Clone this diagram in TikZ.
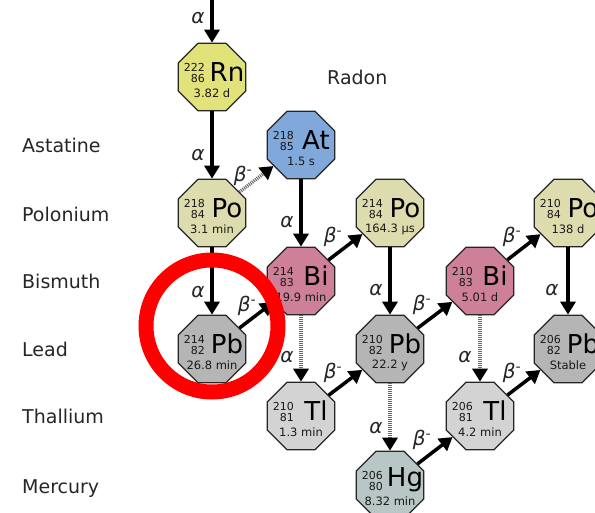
\documentclass[tikz,border=0pt]{standalone}
\usepackage{fontspec}
\setmainfont{DejaVu Sans}
\usetikzlibrary{shapes.geometric,arrows.meta,calc}
\definecolor{cRn}{HTML}{E2E27A}
\definecolor{cAt}{HTML}{80A8DA}
\definecolor{cPo}{HTML}{DCDCAE}
\definecolor{cBi}{HTML}{CF8099}
\definecolor{cPb}{HTML}{B5B5B5}
\definecolor{cTl}{HTML}{D3D3D3}
\definecolor{cHg}{HTML}{B8C6C6}
\tikzset{
  iso/.style={regular polygon, regular polygon sides=8, minimum size=73pt, inner sep=0pt, draw=black!85, line width=1.2pt},
  num/.style={inner sep=0pt, font=\fontsize{11}{11}\selectfont, text=black!90},
  hl/.style={inner sep=0pt, font=\fontsize{11.5}{11.5}\selectfont, text=black!90},
  sym/.style={inner sep=0pt, font=\fontsize{26}{26}\selectfont, text=black},
  row/.style={inner sep=0pt, anchor=base west, font=\fontsize{19}{19}\selectfont, text=black!85},
  dk/.style={line width=3.5pt, -{Triangle[length=13pt,width=15pt]}},
  mn/.style={line width=3.5pt, black!60, dash pattern=on 1pt off 1pt, arrows={-{Triangle[length=13pt,width=15pt,color=black]}}},
  lab/.style={inner sep=0pt, font=\fontsize{20}{20}\selectfont\itshape, text=black!85},
}
\newcommand\isotope[8]{%
  \node[iso, fill=#4] (#1) at (#2,#3) {};
  \node[num, anchor=east] at ($(#1)+(-7,-10)$) {#5};
  \node[num, anchor=east] at ($(#1)+(-7,1)$) {#6};
  \node[sym] at ($(#1)+(15,-5)$) {#7};
  \node[hl] at ($(#1)+(0,16)$) {#8};
}
\begin{document}
\begin{tikzpicture}[x=1pt,y=-1pt]
\useasboundingbox (0,0) rectangle (595,513);
% row labels
\node[row] (lRn) at (327,85) {Radon};
\node[row] (lAt) at (22,153) {Astatine};
\node[row] (lPo) at (22,222) {Polonium};
\node[row] (lBi) at (22,289) {Bismuth};
\node[row] (lPb) at (22,357) {Lead};
\node[row] (lTl) at (22,424) {Thallium};
\node[row] (lHg) at (22,493) {Mercury};
% isotopes
\isotope{rn}{212}{77}{cRn}{222}{86}{Rn}{3.82 d}
\isotope{at}{301}{145}{cAt}{218}{85}{At}{1.5 s}
\isotope{poa}{212}{213}{cPo}{218}{84}{Po}{3.1 min}
\isotope{bia}{301}{281}{cBi}{214}{83}{Bi}{19.9 min}
\isotope{pba}{212}{349}{cPb}{214}{82}{Pb}{26.8 min}
\isotope{pob}{390}{213}{cPo}{214}{84}{Po}{164.3 µs}
\isotope{pbb}{390}{349}{cPb}{210}{82}{Pb}{22.2 y}
\isotope{tla}{301}{416}{cTl}{210}{81}{Tl}{1.3 min}
\isotope{hg}{390}{485}{cHg}{206}{80}{Hg}{8.32 min}
\isotope{bib}{480}{281}{cBi}{210}{83}{Bi}{5.01 d}
\isotope{tlb}{480}{416}{cTl}{206}{81}{Tl}{4.2 min}
\isotope{poc}{568}{213}{cPo}{210}{84}{Po}{138 d}
\isotope{pbc}{568}{349}{cPb}{206}{82}{Pb}{Stable}
% arrows
\coordinate (top) at (212,0);
\draw[dk] (top) -- (rn);
\draw[dk] (rn) -- (poa);
\draw[dk] (poa) -- (pba);
\draw[mn] (poa) -- (at);
\draw[dk] (at) -- (bia);
\draw[dk] (pba) -- (bia);
\draw[dk] (bia) -- (pob);
\draw[mn] (bia) -- (tla);
\draw[dk] (pob) -- (pbb);
\draw[dk] (tla) -- (pbb);
\draw[dk] (pbb) -- (bib);
\draw[mn] (pbb) -- (hg);
\draw[dk] (hg) -- (tlb);
\draw[dk] (bib) -- (poc);
\draw[mn] (bib) -- (tlb);
\draw[dk] (tlb) -- (pbc);
\draw[dk] (poc) -- (pbc);
% labels
\node[lab] (a1) at (198,18) {α};
\node[lab] (a2) at (198,155) {α};
\node[lab] (a3) at (198,292) {α};
\node[lab] (a4) at (287,222) {α};
\node[lab] (a5) at (287,357) {α};
\node[lab] (a6) at (376,290) {α};
\node[lab] (a7) at (376,428) {α};
\node[lab] (a8) at (465,357) {α};
\node[lab] (a9) at (552,290) {α};
\node[lab] (b1) at (243,176) {β\textsuperscript{-}};
\node[lab] (b2) at (247,306) {β\textsuperscript{-}};
\node[lab] (b3) at (333,237) {β\textsuperscript{-}};
\node[lab] (b4) at (333,373) {β\textsuperscript{-}};
\node[lab] (b5) at (422,305) {β\textsuperscript{-}};
\node[lab] (b6) at (422,440) {β\textsuperscript{-}};
\node[lab] (b7) at (512,237) {β\textsuperscript{-}};
\node[lab] (b8) at (512,373) {β\textsuperscript{-}};
% red ring
\node[circle, draw=red, line width=15pt, minimum size=132pt, inner sep=0pt] (ring) at (212,326) {};
\end{tikzpicture}
\end{document}
